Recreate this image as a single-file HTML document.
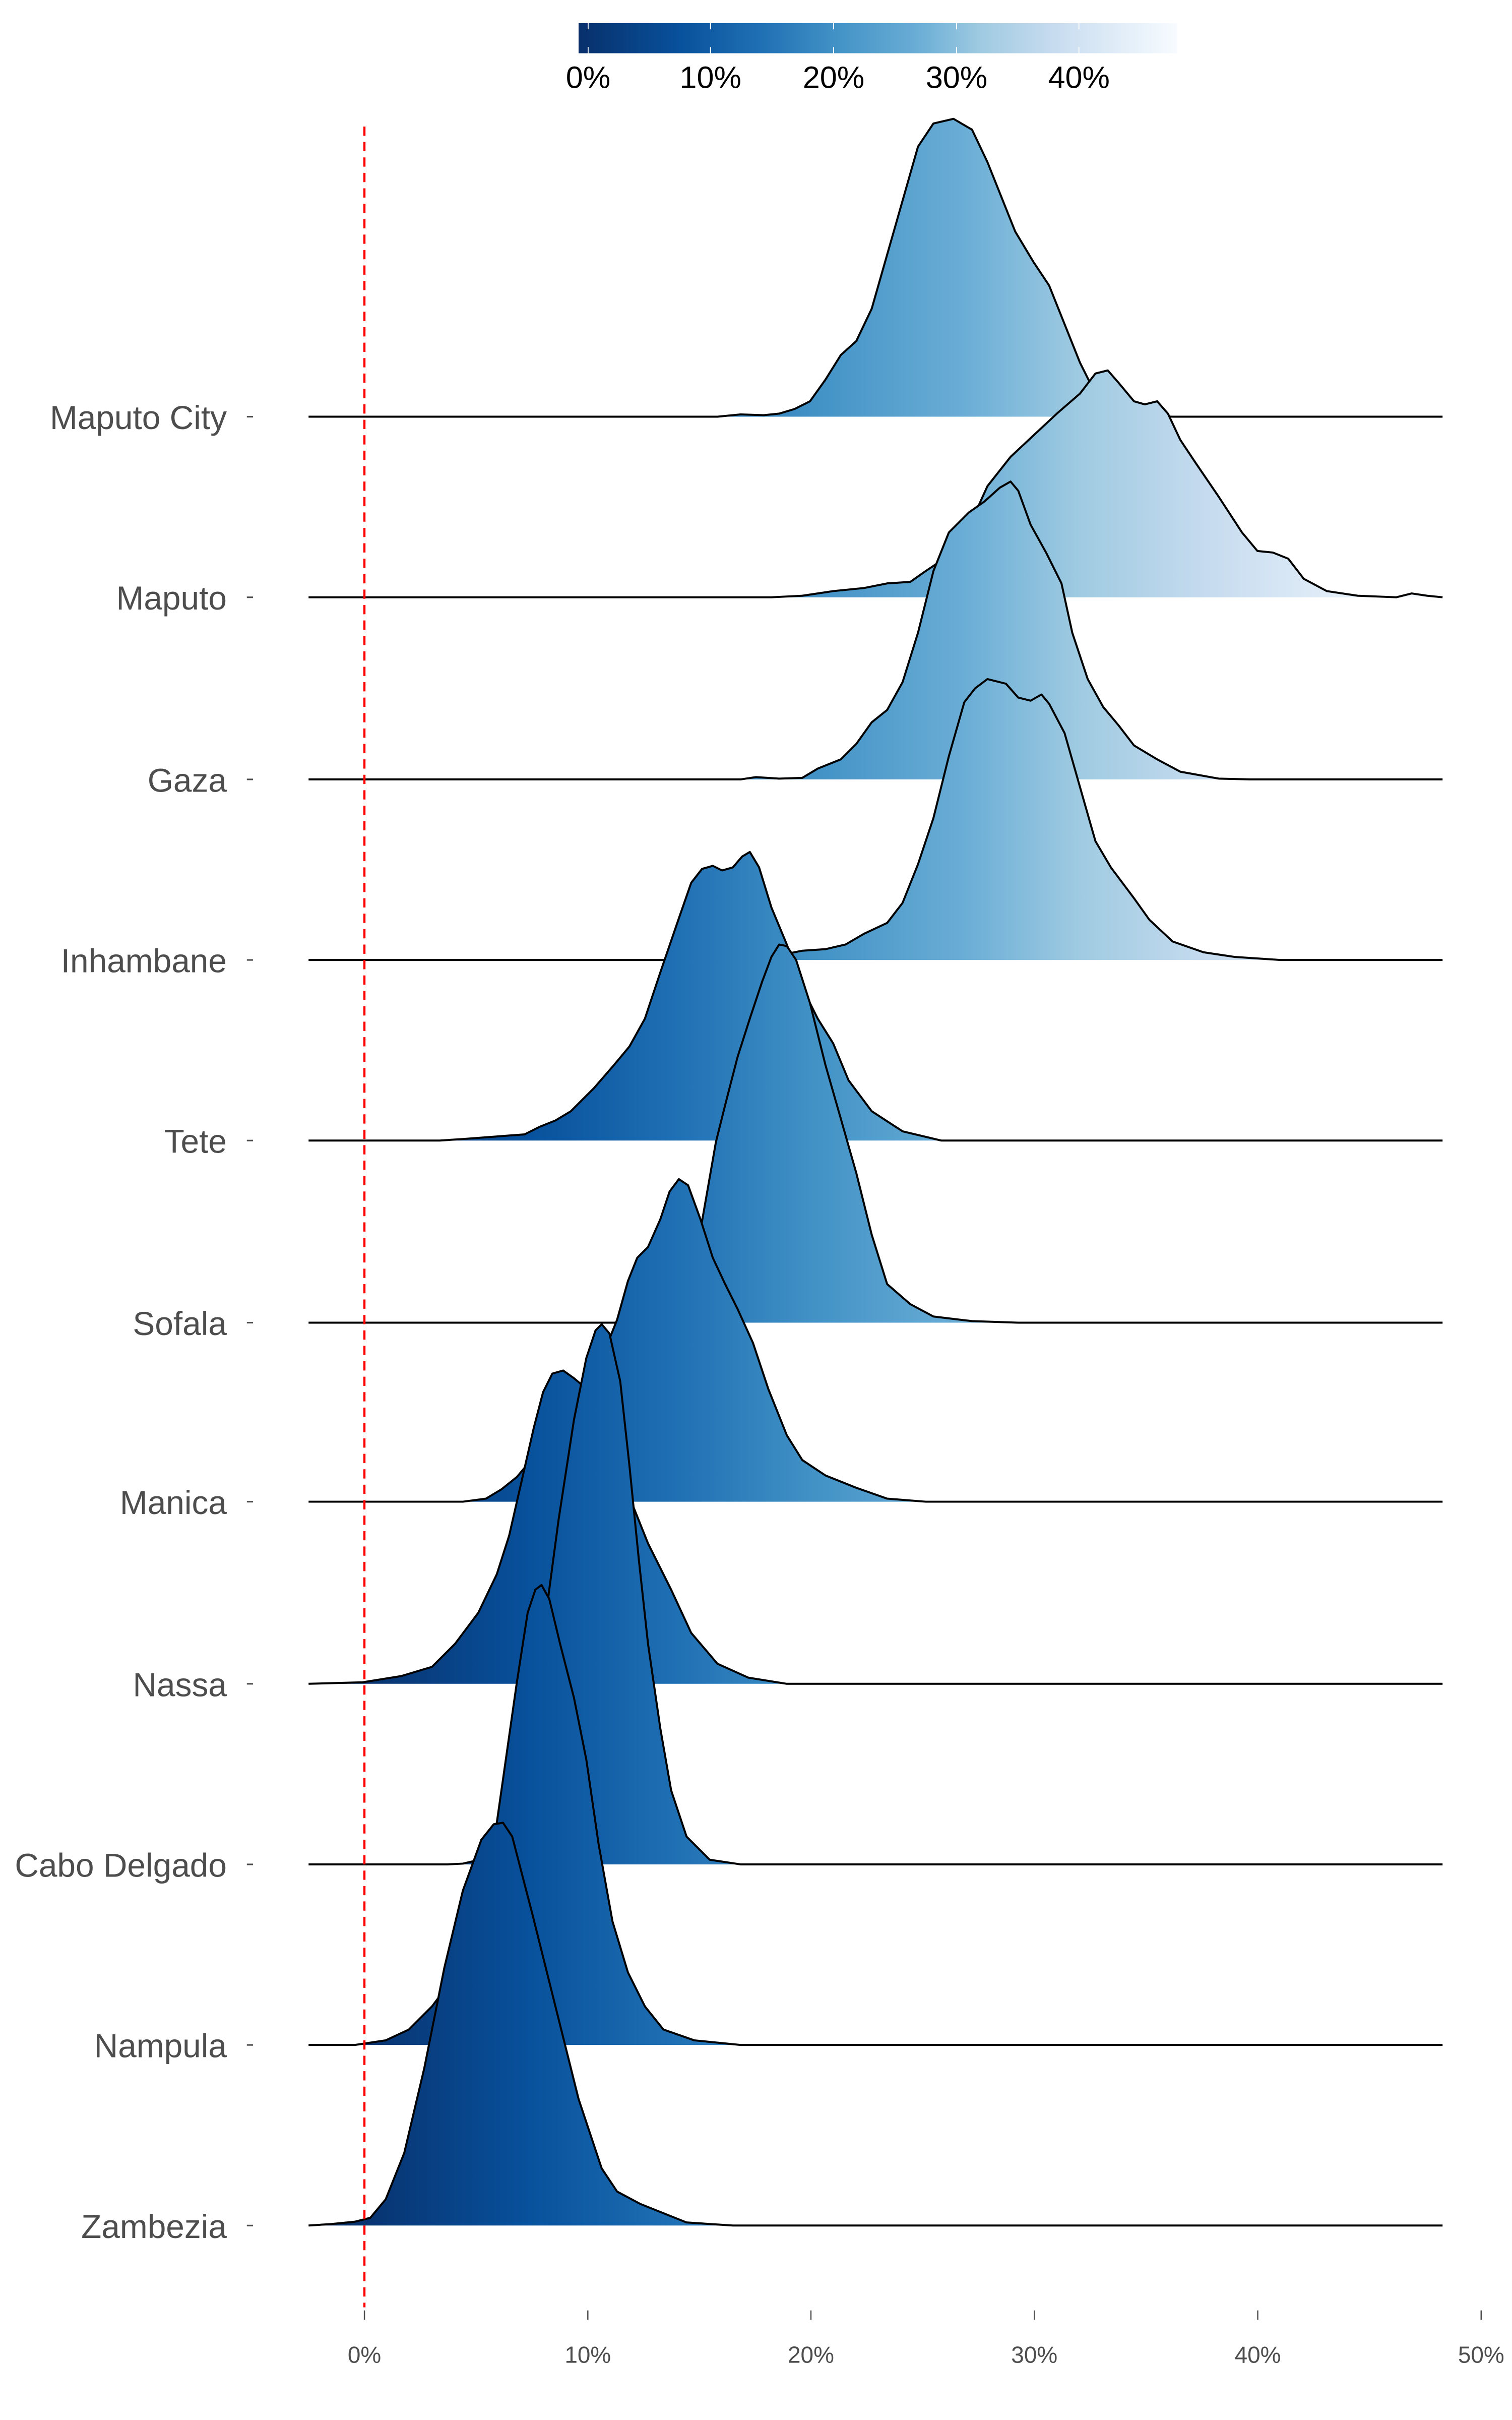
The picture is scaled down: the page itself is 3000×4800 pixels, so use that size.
<!DOCTYPE html>
<html><head><meta charset="utf-8"><style>
html,body{margin:0;padding:0;background:#fff;}
svg{display:block;}
</style></head><body>
<svg width="3000" height="4800" viewBox="0 0 980 1568" xmlns="http://www.w3.org/2000/svg">
<defs>
<linearGradient id="g" gradientUnits="userSpaceOnUse" x1="224" y1="0" x2="931" y2="0">
<stop offset="0" stop-color="#08306b"/>
<stop offset="0.17" stop-color="#08519c"/>
<stop offset="0.31" stop-color="#2171b5"/>
<stop offset="0.43" stop-color="#4292c6"/>
<stop offset="0.57" stop-color="#6baed6"/>
<stop offset="0.67" stop-color="#9ecae1"/>
<stop offset="0.79" stop-color="#c6dbef"/>
<stop offset="0.89" stop-color="#deebf7"/>
<stop offset="1" stop-color="#f7fbff"/>
</linearGradient>
<linearGradient id="cb" x1="0" y1="0" x2="1" y2="0">
<stop offset="0" stop-color="#08306b"/>
<stop offset="0.17" stop-color="#08519c"/>
<stop offset="0.31" stop-color="#2171b5"/>
<stop offset="0.43" stop-color="#4292c6"/>
<stop offset="0.57" stop-color="#6baed6"/>
<stop offset="0.67" stop-color="#9ecae1"/>
<stop offset="0.79" stop-color="#c6dbef"/>
<stop offset="0.89" stop-color="#deebf7"/>
<stop offset="1" stop-color="#f7fbff"/>
</linearGradient>
</defs>
<rect x="375" y="15" width="388" height="19.5" fill="url(#cb)"/>
<g stroke="#fff" stroke-width="0.6">
<line x1="381.2" y1="15" x2="381.2" y2="19"/><line x1="381.2" y1="30.5" x2="381.2" y2="34.5"/>
<line x1="460.5" y1="15" x2="460.5" y2="19"/><line x1="460.5" y1="30.5" x2="460.5" y2="34.5"/>
<line x1="540.3" y1="15" x2="540.3" y2="19"/><line x1="540.3" y1="30.5" x2="540.3" y2="34.5"/>
<line x1="620" y1="15" x2="620" y2="19"/><line x1="620" y1="30.5" x2="620" y2="34.5"/>
<line x1="699.3" y1="15" x2="699.3" y2="19"/><line x1="699.3" y1="30.5" x2="699.3" y2="34.5"/>
</g>
<g font-family="Liberation Sans, sans-serif" font-size="20" fill="#000" text-anchor="middle">
<text x="381.2" y="57">0%</text><text x="460.5" y="57">10%</text><text x="540.3" y="57">20%</text><text x="620" y="57">30%</text><text x="699.3" y="57">40%</text>
</g>
<g font-family="Liberation Sans, sans-serif" font-size="21.5" fill="#4d4d4d" text-anchor="end">
<text x="147" y="278">Maputo City</text>
<text x="147" y="395">Maputo</text>
<text x="147" y="513">Gaza</text>
<text x="147" y="630">Inhambane</text>
<text x="147" y="747">Tete</text>
<text x="147" y="865">Sofala</text>
<text x="147" y="981">Manica</text>
<text x="147" y="1099">Nassa</text>
<text x="147" y="1216">Cabo Delgado</text>
<text x="147" y="1333">Nampula</text>
<text x="147" y="1450">Zambezia</text>
</g>
<g stroke="#4d4d4d" stroke-width="1">
<line x1="160" y1="270" x2="164" y2="270"/><line x1="160" y1="387" x2="164" y2="387"/><line x1="160" y1="505" x2="164" y2="505"/><line x1="160" y1="622" x2="164" y2="622"/><line x1="160" y1="739" x2="164" y2="739"/><line x1="160" y1="857" x2="164" y2="857"/><line x1="160" y1="973" x2="164" y2="973"/><line x1="160" y1="1091" x2="164" y2="1091"/><line x1="160" y1="1208" x2="164" y2="1208"/><line x1="160" y1="1325" x2="164" y2="1325"/><line x1="160" y1="1442" x2="164" y2="1442"/>
</g>
<g stroke="#4d4d4d" stroke-width="0.8">
<line x1="236.2" y1="1497" x2="236.2" y2="1503"/><line x1="381" y1="1497" x2="381" y2="1503"/><line x1="525.6" y1="1497" x2="525.6" y2="1503"/><line x1="670.4" y1="1497" x2="670.4" y2="1503"/><line x1="815.2" y1="1497" x2="815.2" y2="1503"/><line x1="960" y1="1497" x2="960" y2="1503"/>
</g>
<g font-family="Liberation Sans, sans-serif" font-size="15" fill="#4d4d4d" text-anchor="middle">
<text x="236.2" y="1531">0%</text><text x="381" y="1531">10%</text><text x="525.6" y="1531">20%</text><text x="670.4" y="1531">30%</text><text x="815.2" y="1531">40%</text><text x="960" y="1531">50%</text>
</g>
<g fill="url(#g)" stroke="#000" stroke-width="1.3" stroke-linejoin="round">
<polyline points="200,270 465,270 480,268.5 495,269 505,268 515,265 525,260 535,246 545,230 555,221 565,200 575,165 585,130 595,95 605,80 618,77 630,84 640,105 648,125 658,150 670,170 680,185 690,210 700,235 710,255 725,266 745,269.5 760,270 935,270"/>
<polyline points="200,387 500,387 520,386 540,383 560,381 575,378 590,377 600,370 615,360 625,348 640,315 655,296 670,282 685,268 700,255 710,242 718,240 725,248 735,260 742,262 750,260 757,268 765,285 775,300 790,322 805,345 815,357 825,358 835,362 845,375 860,383 880,386 905,387 915,384.5 925,386 935,387"/>
<polyline points="200,505 480,505 490,503.5 505,504.5 520,504 530,498 545,492 555,482 565,468 575,460 585,442 595,410 605,370 615,345 628,332 638,325 648,316 655,312 660,318 668,340 678,358 688,378 695,410 705,440 715,458 725,470 735,483 750,492 765,500 790,504.5 810,505 935,505"/>
<polyline points="200,622 485,622 495,620 510,618 520,616 535,615 548,612 560,605 575,598 585,585 595,560 605,530 615,490 625,455 632,446 640,440 652,443 660,452 668,454 675,450 680,456 690,475 700,510 710,545 720,562 735,582 745,596 760,610 780,617 800,620 830,622 935,622"/>
<polyline points="200,739 285,739 300,738 320,736.5 340,735 350,730 360,726 370,720 385,705 398,690 408,678 418,660 428,630 440,595 448,572 455,563 462,561 468,564 475,562 481,555 486,552 492,562 500,588 510,612 520,640 530,660 540,676 550,700 565,720 585,733 610,739 935,739"/>
<polyline points="200,857 438,857 450,820 457,780 464,740 470,716 478,685 486,660 494,636 500,620 505,612 510,613 516,622 525,650 535,690 545,725 555,760 565,800 575,832 590,845 605,853 630,856 660,857 935,857"/>
<polyline points="200,973 300,973 315,971 325,965 335,957 345,945 360,920 378,897 390,880 400,855 407,830 413,815 420,808 428,790 434,772 440,764 446,768 454,790 462,815 470,832 478,848 488,870 498,900 510,930 520,946 535,956 555,964 575,971 600,973 935,973"/>
<polyline points="200,1091 235,1090 260,1086 280,1080 295,1065 310,1045 322,1020 330,995 338,960 346,925 352,902 358,890 365,888 372,893 378,898 385,910 395,935 408,970 420,1000 435,1030 448,1058 465,1078 485,1087 510,1091 935,1091"/>
<polyline points="200,1208 290,1208 300,1207.5 315,1204 330,1180 342,1130 352,1060 362,985 372,920 380,880 386,862 390,858 395,864 402,895 408,950 414,1010 420,1065 428,1120 435,1160 445,1190 460,1205 480,1208 935,1208"/>
<polyline points="200,1325 230,1325 250,1322 265,1315 280,1300 295,1280 305,1265 315,1230 325,1160 335,1090 342,1045 347,1030 351,1027 356,1036 363,1065 372,1100 380,1140 388,1195 397,1245 407,1278 418,1300 430,1315 450,1322 480,1325 935,1325"/>
<polyline points="200,1442 215,1441 230,1439.5 240,1437 250,1425 262,1395 275,1340 288,1275 300,1225 312,1192 320,1182 326,1181 332,1190 345,1240 360,1300 375,1360 390,1405 400,1420 415,1428 430,1434 445,1440 475,1442 935,1442"/>
</g>
<line x1="236.2" y1="82" x2="236.2" y2="1495" stroke="#ff0000" stroke-width="1.4" stroke-dasharray="6,4"/>
</svg>
</body></html>
